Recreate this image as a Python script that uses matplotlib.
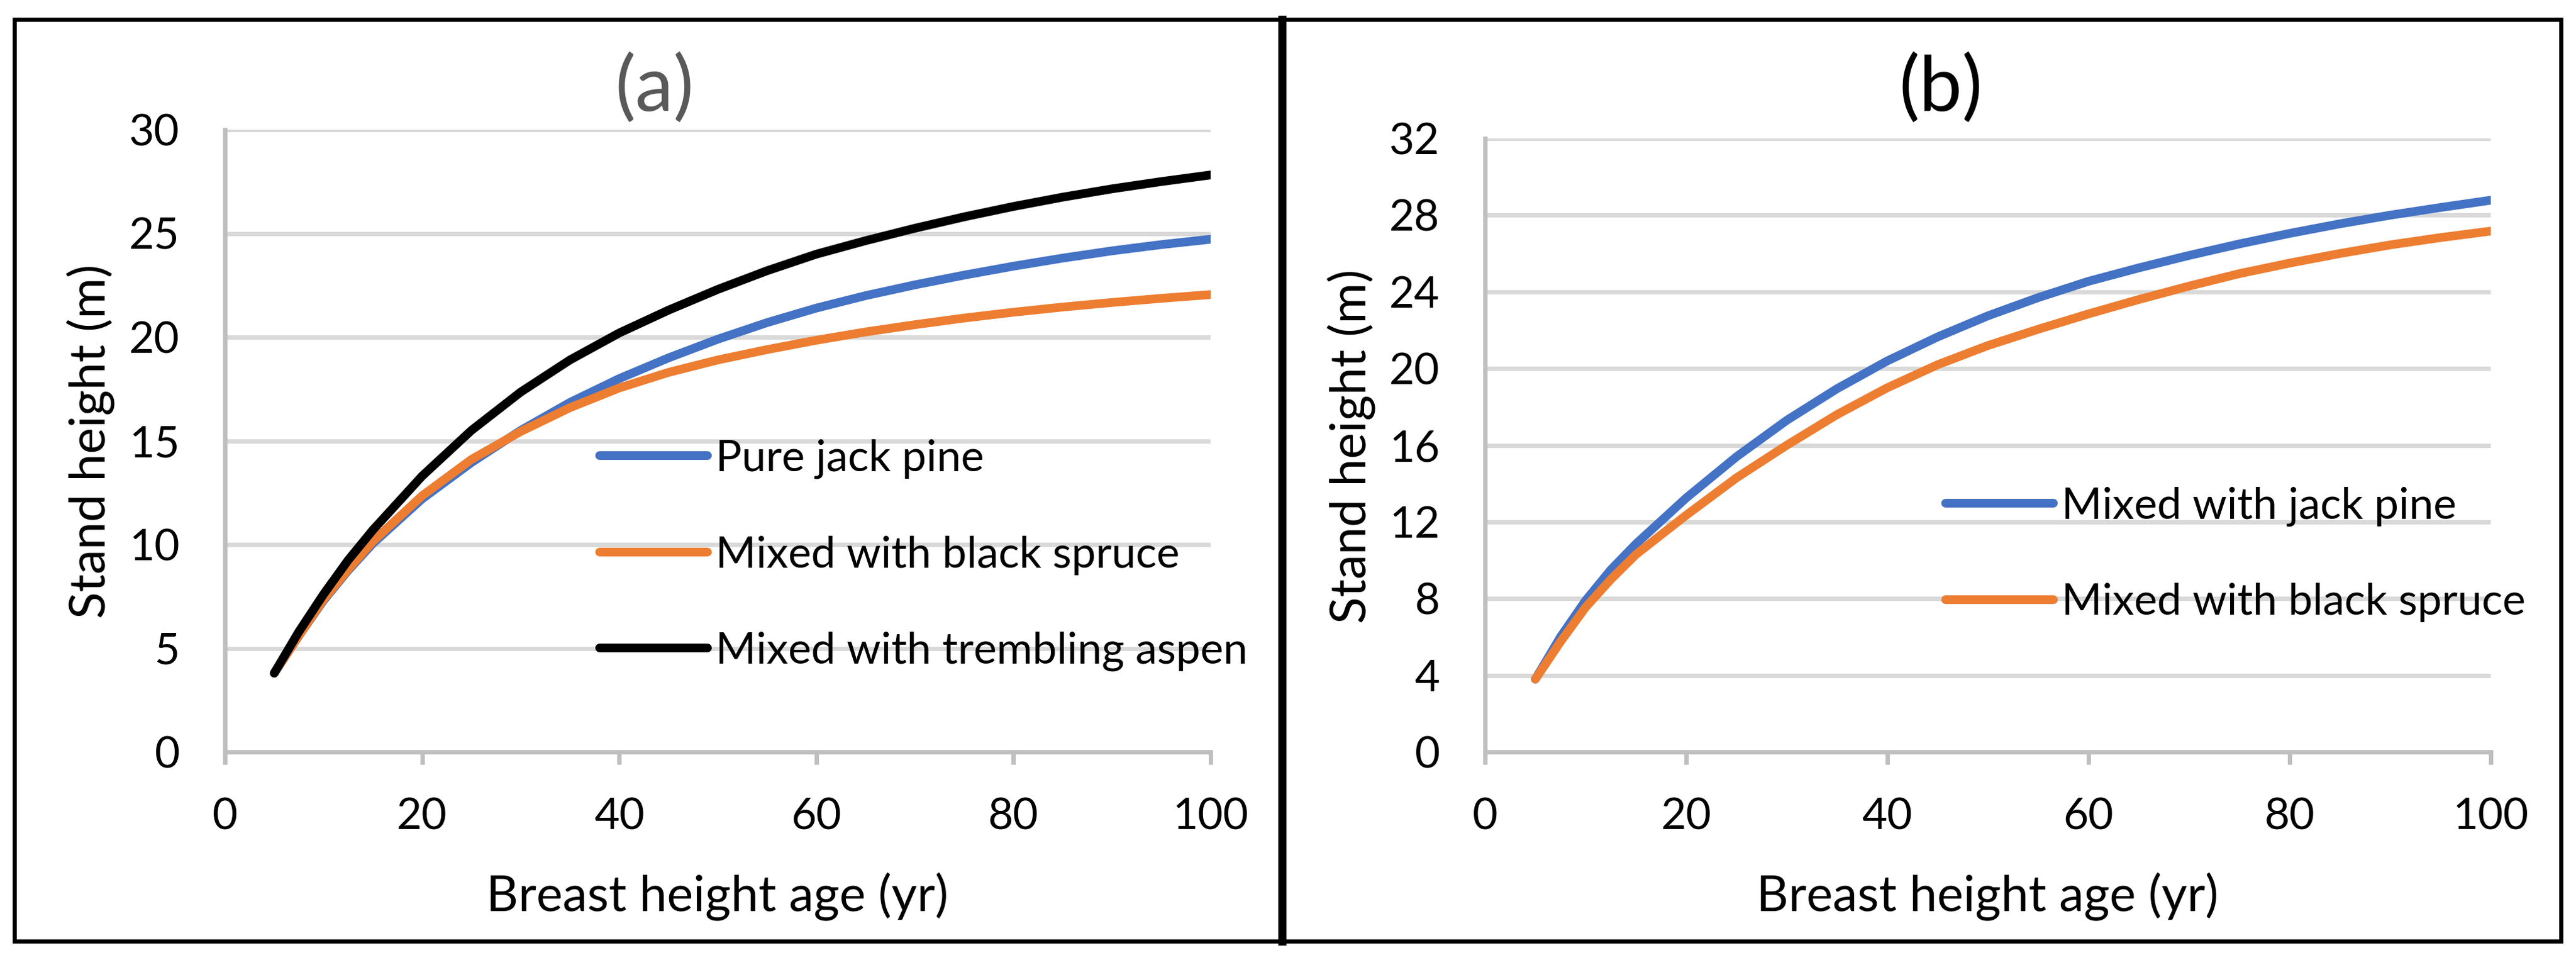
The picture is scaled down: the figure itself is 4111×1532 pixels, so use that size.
import matplotlib
matplotlib.use("Agg")
import matplotlib.pyplot as plt
from matplotlib.patches import Rectangle
from matplotlib.lines import Line2D

plt.rcParams['font.family'] = ['Lato', 'DejaVu Sans']

# breast height age (yr)
age = [5, 7.5, 10, 12.5, 15, 20, 25, 30, 35, 40, 45, 50, 55, 60, 65, 70, 75, 80, 85, 90, 95, 100]

# (a) jack pine stands
pure_jack_pine = [3.8, 5.6, 7.3, 8.75, 10.05, 12.2, 13.95, 15.5, 16.85, 18.0, 19.0, 19.9,
                  20.7, 21.4, 22.0, 22.52, 22.99, 23.42, 23.81, 24.16, 24.46, 24.72]
jp_black_spruce = [3.8, 5.6, 7.35, 8.8, 10.15, 12.35, 14.1, 15.45, 16.6, 17.55, 18.3, 18.9,
                   19.4, 19.85, 20.25, 20.6, 20.92, 21.2, 21.45, 21.67, 21.87, 22.05]
jp_aspen = [3.8, 5.8, 7.6, 9.25, 10.7, 13.3, 15.5, 17.35, 18.9, 20.2, 21.3, 22.3,
            23.2, 24.0, 24.65, 25.25, 25.8, 26.3, 26.75, 27.15, 27.5, 27.82]

# (b) mixed stands
b_jack_pine = [3.8, 6.0, 7.9, 9.5, 10.85, 13.25, 15.4, 17.3, 18.95, 20.4, 21.65, 22.75,
               23.7, 24.55, 25.25, 25.9, 26.5, 27.05, 27.55, 28.0, 28.4, 28.78]
b_black_spruce = [3.8, 5.75, 7.55, 9.0, 10.3, 12.35, 14.3, 16.0, 17.6, 19.0, 20.2, 21.2,
                  22.05, 22.85, 23.6, 24.3, 24.95, 25.5, 26.0, 26.45, 26.83, 27.17]

blue = '#4472C4'
orange = '#ED7D31'
W, H = 4111, 1532
fs = 50      # tick labels and legend
lfs = 57     # axis titles

fig = plt.figure(figsize=(W / 100, H / 100), dpi=100)

def style(ax, ymax, ystep):
    ax.set_xlim(0, 100)
    ax.set_ylim(0, ymax)
    ax.set_xticks(range(0, 101, 20))
    ax.set_yticks(range(0, ymax + 1, ystep))
    ax.grid(axis='y', color='#D9D9D9', linewidth=5)
    ax.set_axisbelow(True)
    for s in ['top', 'right']:
        ax.spines[s].set_visible(False)
    for s in ['left', 'bottom']:
        ax.spines[s].set_color('#BFBFBF')
        ax.spines[s].set_linewidth(5)
    ax.tick_params(axis='x', direction='out', length=14.4, width=5, color='#BFBFBF',
                   labelsize=fs, pad=38)
    ax.tick_params(axis='y', length=0, labelsize=fs, pad=52)

# panel (a)
ax1 = fig.add_axes([359 / W, 1 - 1200 / H, 1573 / W, 993 / H])
ax1.plot(age, pure_jack_pine, color=blue, lw=10, label='Pure jack pine', solid_capstyle='round')
ax1.plot(age, jp_black_spruce, color=orange, lw=10, label='Mixed with black spruce', solid_capstyle='round')
ax1.plot(age, jp_aspen, color='black', lw=10, label='Mixed with trembling aspen', solid_capstyle='round')
style(ax1, 30, 5)
ax1.legend(loc='center left', bbox_to_anchor=(957 / W, 1 - 886 / H), bbox_transform=fig.transFigure,
           frameon=False, fontsize=fs, borderpad=0, borderaxespad=0,
           handlelength=2.48, handletextpad=0.19, labelspacing=1.3)

# panel (b)
ax2 = fig.add_axes([2370 / W, 1 - 1200 / H, 1605 / W, 979 / H])
ax2.plot(age, b_jack_pine, color=blue, lw=10, label='Mixed with jack pine', solid_capstyle='round')
ax2.plot(age, b_black_spruce, color=orange, lw=10, label='Mixed with black spruce', solid_capstyle='round')
style(ax2, 32, 4)
ax2.legend(loc='center left', bbox_to_anchor=(3105 / W, 1 - 885 / H), bbox_transform=fig.transFigure,
           frameon=False, fontsize=fs, borderpad=0, borderaxespad=0,
           handlelength=2.48, handletextpad=0.19, labelspacing=1.3)

# titles and axis labels
fig.text(1045 / W, 1 - 142 / H, '(a)', fontsize=88, color='#595959', ha='center', va='center')
fig.text(3097 / W, 1 - 142 / H, '(b)', fontsize=88, color='black', ha='center', va='center')
fig.text(1145 / W, 1 - 1431 / H, 'Breast height age (yr)', fontsize=lfs, ha='center', va='center')
fig.text(3172 / W, 1 - 1431 / H, 'Breast height age (yr)', fontsize=lfs, ha='center', va='center')
fig.text(145 / W, 1 - 704 / H, 'Stand height (m)', fontsize=lfs, rotation=90, ha='center', va='center')
fig.text(2157 / W, 1 - 712 / H, 'Stand height (m)', fontsize=lfs, rotation=90, ha='center', va='center')

# outer frame and divider
fig.patches.append(Rectangle((23 / W, 1 - 1502 / H), 4064 / W, 1471 / H, fill=False,
                             edgecolor='black', linewidth=4.7, transform=fig.transFigure))
fig.lines.append(Line2D([2046 / W, 2046 / W], [1 - 1502 / H, 1 - 31 / H], color='black',
                        linewidth=9.4, transform=fig.transFigure))

fig.savefig('out.png', dpi=100, facecolor='white')
